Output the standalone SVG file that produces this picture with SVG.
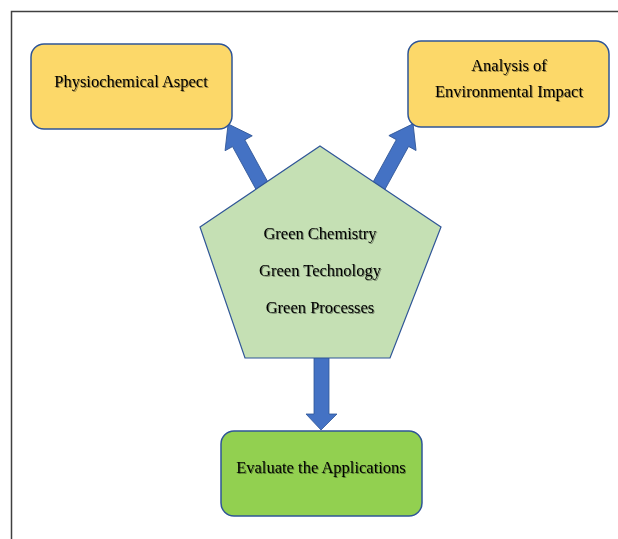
<svg xmlns="http://www.w3.org/2000/svg" width="618" height="539" viewBox="0 0 618 539">
  <defs>
    <filter id="txtShadow" x="-10%" y="-30%" width="120%" height="160%">
      <feGaussianBlur in="SourceAlpha" stdDeviation="0.7" result="b"/>
      <feOffset in="b" dx="0.8" dy="0.8" result="o"/>
      <feComponentTransfer in="o" result="s"><feFuncA type="linear" slope="0.4"/></feComponentTransfer>
      <feMerge><feMergeNode in="s"/><feMergeNode in="SourceGraphic"/></feMerge>
    </filter>
  </defs>
  <style>
    .frame { fill: none; stroke: #404040; stroke-width: 1.5; }
    .box { stroke: #2F5597; stroke-width: 1.5; }
    .yellow { fill: #FCD869; }
    .green { fill: #92D050; }
    .penta { fill: #C5E0B4; stroke: #2F5597; stroke-width: 1.2; }
    .arrow { fill: #4472C4; stroke: #2F5597; stroke-width: 0.8; }
    .label { font-family: "Liberation Serif", "Times New Roman", serif; font-size: 16.5px; fill: #000; text-anchor: middle; filter: url(#txtShadow); }
  </style>

  <rect width="618" height="539" fill="#ffffff"/>
  <!-- outer frame (top and left edges) -->
  <polyline class="frame" points="11.5,539 11.5,11.5 618,11.5"/>

  <!-- connectors: block arrows from the centre pentagon -->
  <g id="connectors">
    <!-- to Physiochemical Aspect -->
    <g transform="translate(267,195) rotate(-28.7)">
      <polygon class="arrow" points="-7,0 -7,-59 -15.5,-59 0,-81 15.5,-59 7,-59 7,0"/>
    </g>
    <!-- to Analysis of Environmental Impact -->
    <g transform="translate(375,193) rotate(28.8)">
      <polygon class="arrow" points="-7,0 -7,-57 -15.5,-57 0,-79 15.5,-57 7,-57 7,0"/>
    </g>
    <!-- to Evaluate the Applications -->
    <polygon class="arrow" points="314,352 329,352 329,414 337,414 321,430 306,414 314,414"/>
  </g>

  <g id="node-physiochemical">
    <rect class="box yellow" x="31" y="44" width="201" height="85" rx="13"/>
    <text class="label" x="131" y="87">Physiochemical Aspect</text>
  </g>

  <g id="node-environmental">
    <rect class="box yellow" x="408" y="41" width="201" height="86" rx="13"/>
    <text class="label" x="509" y="71">Analysis of</text>
    <text class="label" x="509" y="97">Environmental Impact</text>
  </g>

  <g id="node-green">
    <polygon class="penta" points="320,146 441,227 390,358 245,358 200,227"/>
    <text class="label" x="320" y="239">Green Chemistry</text>
    <text class="label" x="320" y="276">Green Technology</text>
    <text class="label" x="320" y="313">Green Processes</text>
  </g>

  <g id="node-evaluate">
    <rect class="box green" x="221" y="431" width="201" height="85" rx="13"/>
    <text class="label" x="321" y="473">Evaluate the Applications</text>
  </g>
</svg>
